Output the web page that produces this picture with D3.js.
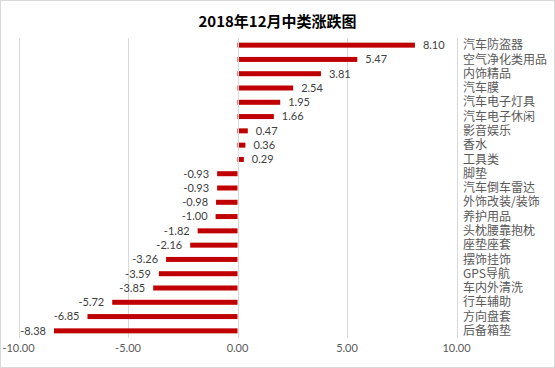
<!DOCTYPE html>
<html><head><meta charset="utf-8">
<script src="https://cdn.jsdelivr.net/npm/d3@7"></script>
<style>
html,body{margin:0;padding:0;background:#fff;}
svg{display:block;}
</style></head>
<body>
<script>
const categories = ["汽车防盗器","空气净化类用品","内饰精品","汽车膜","汽车电子灯具","汽车电子休闲","影音娱乐","香水","工具类","脚垫","汽车倒车雷达","外饰改装/装饰","养护用品","头枕腰靠抱枕","座垫座套","摆饰挂饰","GPS导航","车内外清洗","行车辅助","方向盘套","后备箱垫"];
const values = [8.10,5.47,3.81,2.54,1.95,1.66,0.47,0.36,0.29,-0.93,-0.93,-0.98,-1.00,-1.82,-2.16,-3.26,-3.59,-3.85,-5.72,-6.85,-8.38];
const xTicks = [-10,-5,0,5,10];
const title = "2018年12月中类涨跌图";

const W = 555, H = 368;
const svg = d3.select("body").append("svg").attr("width", W).attr("height", H);
svg.append("rect").attr("x",0.5).attr("y",0.5).attr("width",W-1).attr("height",H-1)
  .attr("fill","#fff").attr("stroke","#d9d9d9");

const x = d3.scaleLinear().domain([-10,10]).range([18.5,456.5]);
const y = d3.scaleBand().domain(categories).range([38,338]);

// gridlines
svg.append("g").selectAll("line").data(xTicks.filter(t=>t!==0)).join("line")
  .attr("x1",d=>Math.round(x(d))+0.5).attr("x2",d=>Math.round(x(d))+0.5)
  .attr("y1",38).attr("y2",338).attr("stroke","#d9d9d9").attr("stroke-width",1);

// bars
const bh = 5;
svg.append("g").selectAll("rect").data(values).join("rect")
  .attr("x",d=>x(Math.min(0,d)))
  .attr("width",d=>Math.abs(x(d)-x(0)))
  .attr("y",(d,i)=>y(categories[i])+y.bandwidth()/2-bh/2)
  .attr("height",bh).attr("fill","#c00000");

// zero axis line
svg.append("line").attr("x1",Math.round(x(0))+0.5).attr("x2",Math.round(x(0))+0.5)
  .attr("y1",38).attr("y2",338).attr("stroke","#d9d9d9");

// value labels
svg.append("g").selectAll("text").data(values).join("text")
  .attr("x",d=>d>=0 ? x(d)+8 : x(d)-8)
  .attr("y",(d,i)=>y(categories[i])+y.bandwidth()/2)
  .attr("dy","0.35em")
  .attr("text-anchor",d=>d>=0?"start":"end")
  .attr("font-family","Lato, 'Noto Sans', sans-serif").attr("font-size",11)
  .attr("fill","#404040")
  .text(d=>d.toFixed(2));

// category labels on right
svg.append("g").selectAll("text").data(categories).join("text")
  .attr("x",463)
  .attr("y",d=>y(d)+y.bandwidth()/2)
  .attr("dy","0.35em")
  .attr("font-family","'Noto Sans CJK SC', sans-serif").attr("font-size",12)
  .attr("fill","#595959")
  .text(d=>d);

// x axis labels
svg.append("g").selectAll("text").data(xTicks).join("text")
  .attr("x",d=>x(d)).attr("y",352)
  .attr("text-anchor","middle")
  .attr("font-family","Lato, 'Noto Sans', sans-serif").attr("font-size",11)
  .attr("fill","#595959")
  .text(d=>d.toFixed(2));

// title
svg.append("text").attr("x",W/2).attr("y",27).attr("text-anchor","middle")
  .attr("font-family","'Noto Sans CJK SC', sans-serif").attr("font-weight","bold")
  .attr("font-size",15).attr("fill","#000").text(title);
</script>
</body></html>
